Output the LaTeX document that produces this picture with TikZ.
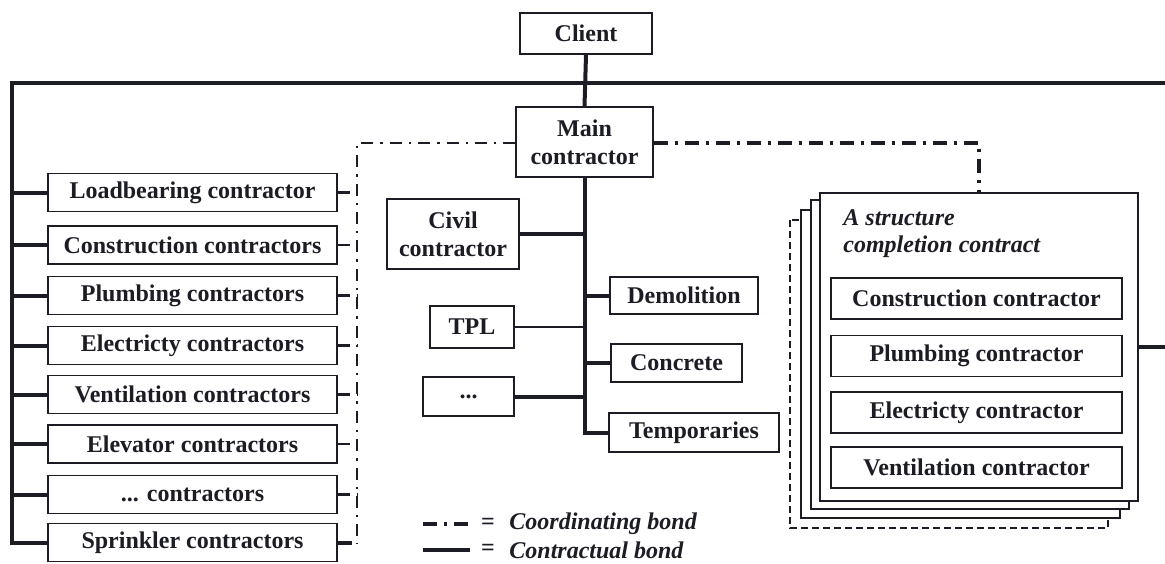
\documentclass[tikz,border=0pt]{standalone}
\usepackage{fontspec}
\setmainfont{Liberation Serif}
\usepackage{tikz}
\usetikzlibrary{calc}
\definecolor{ink}{HTML}{1C1C24}
\tikzset{
  box/.style={draw=ink, line width=0.7pt, fill=white, inner sep=0pt, align=center, text=ink, font=\fontsize{12}{14}\selectfont\bfseries},
  lbox/.style={box, minimum width=144.5pt, minimum height=19pt},
  ibox/.style={box, minimum width=145.5pt, minimum height=20.5pt},
  contract/.style={draw=ink, line width=2pt},
  thinbond/.style={draw=ink, line width=1pt},
  coordthin/.style={draw=ink, line width=1.3pt, dash pattern=on 6pt off 3.5pt on 1.2pt off 3.5pt},
  coordthick/.style={draw=ink, line width=2pt, dash pattern=on 7pt off 3.5pt on 1.5pt off 3.5pt},
  sheet/.style={draw=ink, line width=0.7pt, fill=white},
  lab/.style={text=ink, inner sep=0pt, font=\fontsize{12}{13.5}\selectfont\bfseries\itshape},
}

\begin{document}
\begin{tikzpicture}[x=0.5pt, y=-0.5pt]
  \useasboundingbox (0,0) rectangle (1165,563);
  % top of the chart
  \node[box, minimum width=66pt, minimum height=20.5pt] (client) at (586,33.5) {Client};
  \node[box, minimum width=68.5pt, minimum height=35pt] (main) at (584.5,142) {Main\\contractor};
  \coordinate (lt) at (12,83);
  \coordinate (rt) at (1165,83);
  \coordinate (cl) at (357,143);
  \coordinate (cb) at (357,544);
  \coordinate (re) at (1165,347);

  % contractors hired by the client
  \node[lbox] (l1) at (192.5,192.5) {Loadbearing contractor};
  \node[lbox] (l2) at (192.5,245) {Construction contractors};
  \node[lbox] (l3) at (192.5,295.5) {Plumbing contractors};
  \node[lbox] (l4) at (192.5,345.5) {Electricty contractors};
  \node[lbox] (l5) at (192.5,394.5) {Ventilation contractors};
  \node[lbox] (l6) at (192.5,444) {Elevator contractors};
  \node[lbox] (l7) at (192.5,494.5) {... contractors};
  \node[lbox] (l8) at (192.5,542.5) {Sprinkler contractors};

  % subcontractors of the main contractor
  \node[box, minimum width=66pt, minimum height=35pt] (civil) at (453,234) {Civil\\contractor};
  \node[box, minimum width=42pt, minimum height=21pt] (tpl) at (472,327) {TPL};
  \node[box, minimum width=45.5pt, minimum height=19.5pt] (etc) at (468.5,396.5) {...};
  \node[box, minimum width=74pt, minimum height=18.5pt] (demol) at (684,295.5) {Demolition};
  \node[box, minimum width=65.5pt, minimum height=19pt] (concr) at (676.5,363) {Concrete};
  \node[box, minimum width=85pt, minimum height=19.5pt] (temp) at (694,432.5) {Temporaries};

  % structure completion contracts
  \draw[sheet, dash pattern=on 3.5pt off 2pt] (790,220) rectangle (1108,528);
  \draw[sheet] (801,210) rectangle (1120,518);
  \draw[sheet] (811,200) rectangle (1129,509);
  \node[box, minimum width=159pt, minimum height=154pt] (sc) at (979,347) {};
  \node[lab, anchor=base west, align=left] (sctitle) at (843,252) {A structure\\ completion contract};
  \node[ibox] (s1) at (976.5,298.5) {Construction contractor};
  \node[ibox] (s2) at (976.5,356) {Plumbing contractor};
  \node[ibox] (s3) at (976.5,412.5) {Electricty contractor};
  \node[ibox] (s4) at (976.5,467.5) {Ventilation contractor};

  % contractual bonds
  \draw[contract] (client.south) -- (main.north);
  \draw[contract] (rt) -- (lt) |- (l8.west);
  \draw[contract] (l1.west) -- (l1.west -| lt);
  \draw[contract] (l2.west) -- (l2.west -| lt);
  \draw[contract] (l3.west) -- (l3.west -| lt);
  \draw[contract] (l4.west) -- (l4.west -| lt);
  \draw[contract] (l5.west) -- (l5.west -| lt);
  \draw[contract] (l6.west) -- (l6.west -| lt);
  \draw[contract] (l7.west) -- (l7.west -| lt);
  \draw[contract] (sc.east |- re) -- (re);
  \draw[contract] (main.south) |- (temp.west);
  \draw[contract] (civil.east) -- (civil.east -| main.south);
  \draw[thinbond] (tpl.east) -- (tpl.east -| main.south);
  \draw[contract] (etc.east) -- (etc.east -| main.south);
  \draw[contract] (demol.west) -- (demol.west -| main.south);
  \draw[contract] (concr.west) -- (concr.west -| main.south);

  % coordinating bonds
  \draw[coordthin] (main.west |- cl) -- (cl) -- (cb);
  \draw[coordthin] (l1.east) -- (l1.east -| cl);
  \draw[coordthin] (l2.east) -- (l2.east -| cl);
  \draw[coordthin] (l3.east) -- (l3.east -| cl);
  \draw[coordthin] (l4.east) -- (l4.east -| cl);
  \draw[coordthin] (l5.east) -- (l5.east -| cl);
  \draw[coordthin] (l6.east) -- (l6.east -| cl);
  \draw[coordthin] (l7.east) -- (l7.east -| cl);
  \draw[coordthick] (l8.east) -- (l8.east -| cl);
  \draw[coordthick] (main.east |- cl) -| (sc.north);

  % legend
  \coordinate (k1) at (423,524);
  \coordinate (k2) at (470,524);
  \coordinate (k3) at (423,550);
  \coordinate (k4) at (470,550);
  \draw[coordthick] (k1) -- (k2);
  \draw[contract] (k3) -- (k4);
  \node[lab, font=\fontsize{12}{14}\selectfont\bfseries] (eq1) at (488,524) {=};
  \node[lab, font=\fontsize{12}{14}\selectfont\bfseries] (eq2) at (488,550) {=};
  \node[lab, anchor=west] (key1) at (509,524) {Coordinating bond};
  \node[lab, anchor=west] (key2) at (509,550) {Contractual bond};
\end{tikzpicture}
\end{document}
